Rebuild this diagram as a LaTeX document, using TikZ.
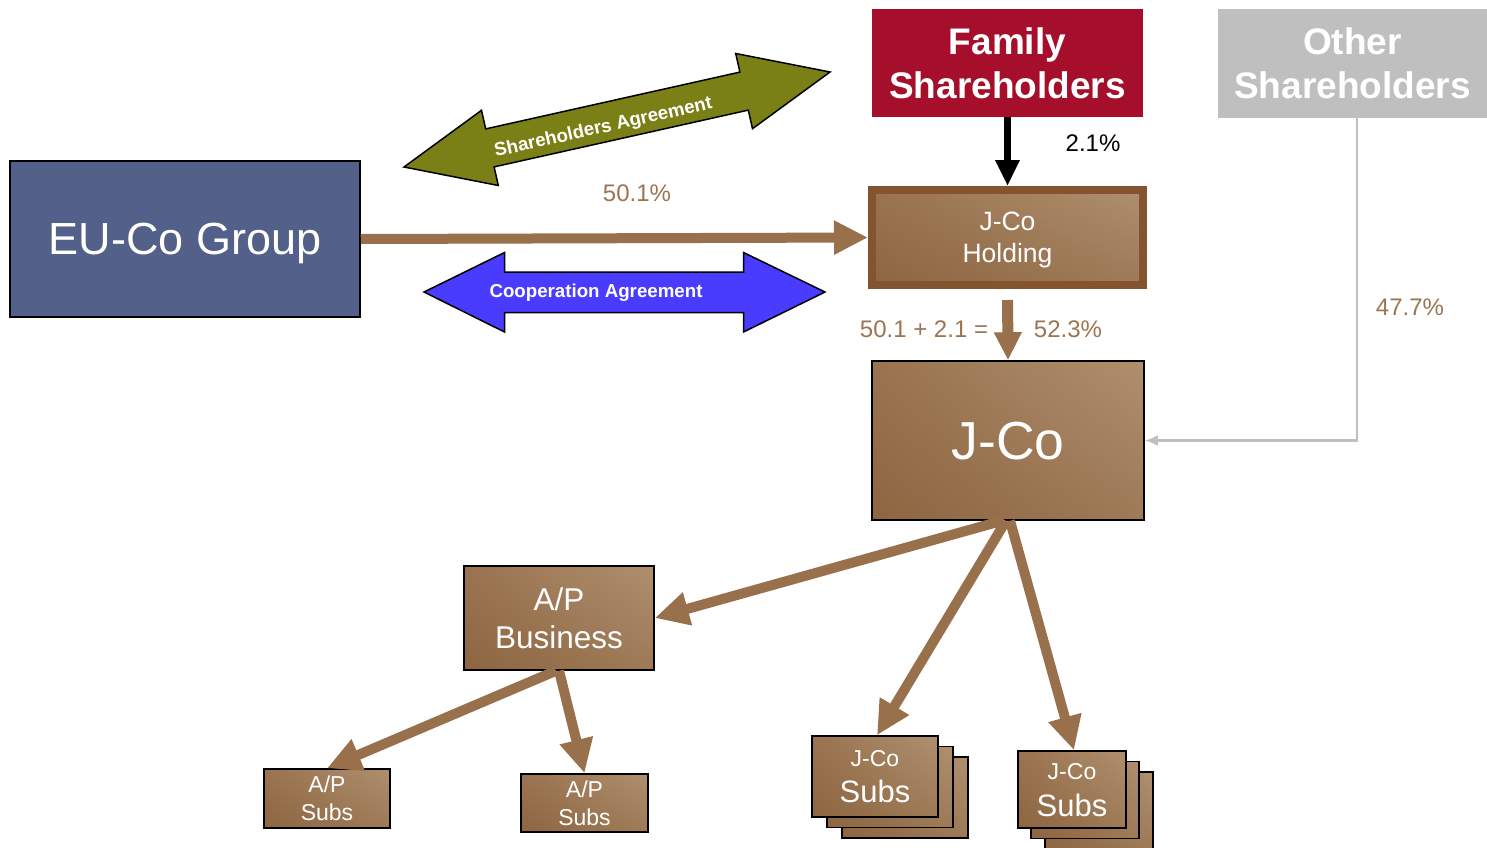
\documentclass[tikz,border=0pt]{standalone}
\usepackage{fontspec}
\setmainfont{Liberation Sans}
\usetikzlibrary{arrows.meta,shadings,calc}

\definecolor{eublue}{HTML}{536089}
\definecolor{famred}{HTML}{A50F2B}
\definecolor{othgray}{HTML}{BFBFBF}
\definecolor{olivegreen}{HTML}{7B8016}
\definecolor{coopblue}{HTML}{4A3CFF}
\definecolor{linkbrown}{HTML}{98704B}
\definecolor{labelbrown}{HTML}{9B7552}
\definecolor{holdborder}{HTML}{845430}
\definecolor{bUL}{HTML}{9A7350}
\definecolor{bUR}{HTML}{AE8F6E}
\definecolor{bLL}{HTML}{8D6541}
\definecolor{bLR}{HTML}{9E7A57}

\newcommand{\fsz}[2]{\fontsize{#1}{#2}\selectfont}

\begin{document}
\begin{tikzpicture}[x=1pt,y=-1pt,
  flatbox/.style={inner sep=0pt, text=white, align=center, text depth=0pt},
  brownbox/.style={draw=black, line width=1.5pt, inner sep=0pt, text=white, align=center, text depth=0pt,
    upper left=bUL, upper right=bUR, lower left=bLL, lower right=bLR},
  link/.style={draw=linkbrown, line width=10pt, -{Triangle[length=34pt,width=32pt]}},
  pct/.style={text=labelbrown, font=\fsz{24}{28}},
  agree/.style={draw=black, line width=1.5pt, line join=miter},
  agreetext/.style={text=white, text depth=0pt, font=\bfseries\fsz{18.7}{22}}
]
\useasboundingbox (0,0) rectangle (1487,847);

% ---- top-level owners
\node[flatbox, fill=eublue, draw=black, line width=1.5pt, minimum width=350pt, minimum height=156pt,
  font=\fsz{45}{52}] (eu) at (185,239) {EU-Co Group};
\node[flatbox, fill=famred, minimum width=271pt, minimum height=108pt,
  font=\bfseries\fsz{37}{44}] (fam) at (1007.5,63) {Family\\Shareholders};
\node[flatbox, fill=othgray, minimum width=269pt, minimum height=109pt,
  font=\bfseries\fsz{37}{44}] (oth) at (1352.5,63.5) {Other\\Shareholders};

% ---- holding and operating company
\node[brownbox, draw=holdborder, line width=8pt, minimum width=271pt, minimum height=95pt,
  font=\fsz{26.5}{32}] (hold) at (1007.5,237.5) {J-Co\\Holding};
\node[brownbox, minimum width=272pt, minimum height=159pt, font=\fsz{53.5}{60}] (jco) at (1008,440.5) {J-Co};

% ---- A/P branch
\node[brownbox, minimum width=190pt, minimum height=104pt, font=\fsz{31.5}{38}] (apb) at (559,618) {A/P\\Business};
\node[brownbox, minimum width=126pt, minimum height=59pt, font=\fsz{23}{28}] (aps1) at (327,798.5) {A/P\\Subs};
\node[brownbox, minimum width=127pt, minimum height=58pt, font=\fsz{23}{28}] (aps2) at (584.5,803) {A/P\\Subs};

% ---- stacked J-Co subsidiaries
\node[brownbox, minimum width=126pt, minimum height=81pt] (js1c) at (905,797.5) {};
\node[brownbox, minimum width=126pt, minimum height=81pt] (js1b) at (890,787) {};
\node[brownbox, minimum width=126pt, minimum height=81pt, font=\fsz{31}{36}] (js1) at (875,776.5)
  {{\fsz{23}{26}J-Co}\\Subs};
\node[brownbox, minimum width=108pt, minimum height=77pt] (js2c) at (1099,810.5) {};
\node[brownbox, minimum width=108pt, minimum height=77pt] (js2b) at (1085,800) {};
\node[brownbox, minimum width=108pt, minimum height=77pt, font=\fsz{31}{37}] (js2) at (1072,789.5)
  {{\fsz{23}{26}J-Co}\\Subs};

% ---- ownership connectors
\draw[link] (eu.east) -- (hold.west);
\node[pct] (p501) at (637,193) {50.1\%};
\draw[line width=7pt, -{Triangle[length=26pt,width=23pt]}] (fam.south) -- (hold.north);
\node[font=\fsz{24}{28}] (p21) at (1093,143) {2.1\%};
\draw[draw=linkbrown, line width=11pt, -{Triangle[length=28pt,width=26pt]}, shorten <=11pt] (hold.south) -- (jco.north);
\node[pct] (psum) at (924,329) {50.1 + 2.1 =};
\node[pct] (p523) at (1068,329) {52.3\%};
\coordinate (ox) at (1357,0);
\draw[draw=othgray, line width=2.5pt, -{Latex[length=13pt,width=11pt]}] (oth.south -| ox) |- (jco.east);
\node[pct] (p477) at (1410,307) {47.7\%};

\draw[link] ([xshift=-6pt]jco.south) -- (apb.east);
\draw[link] ([xshift=-2pt]jco.south) -- ([xshift=2pt]js1.north);
\draw[link] ([xshift=2pt]jco.south) -- ([xshift=2pt]js2.north);
\draw[link] ([xshift=-3pt]apb.south) -- (aps1.north);
\draw[link] (apb.south) -- (aps2.north);

% ---- agreement arrows
\draw[agree, fill=olivegreen]
  (404,167) -- (481.5,110.3) -- (485.7,128.9) -- (739.9,72.1) -- (735.7,53.5) -- (830,72)
  -- (752.5,128.7) -- (748.3,110.1) -- (494.1,166.9) -- (498.3,185.5) -- cycle;
\node[agreetext, rotate=12.57] (sha) at (603,126) {Shareholders Agreement};
\draw[agree, fill=coopblue]
  (424,292) -- (504.5,252.5) -- (504.5,272) -- (743.5,272) -- (743.5,252.5) -- (825,292)
  -- (743.5,332) -- (743.5,312.5) -- (504.5,312.5) -- (504.5,332) -- cycle;
\node[agreetext] (coop) at (596,291) {Cooperation Agreement};
\end{tikzpicture}
\end{document}
